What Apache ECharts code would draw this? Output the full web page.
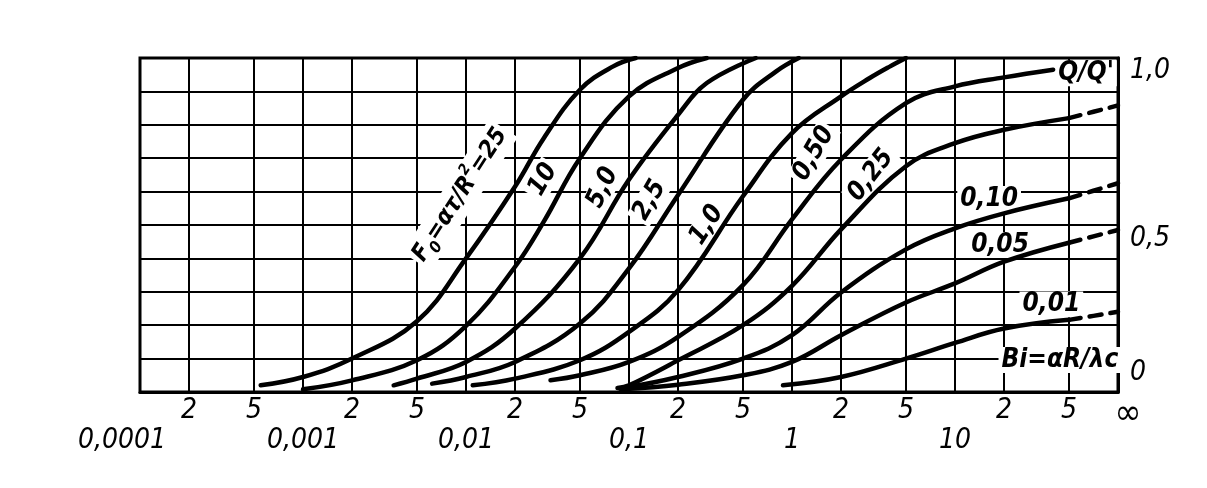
<!DOCTYPE html>
<html><head><meta charset="utf-8">
<script src="https://cdn.jsdelivr.net/npm/echarts@6/dist/echarts.min.js"></script>
<style>html,body{margin:0;padding:0;background:#fff}#c{width:1207px;height:488px}</style>
</head><body><div id="c"></div>
<script>
// Bi (x, log) grid ticks and labels
const biTicks = [0.0001,0.0002,0.0005,0.001,0.002,0.005,0.01,0.02,0.05,0.1,0.2,0.5,1,2,5,10,20,50,100];
const biTickLabels = ['0,0001','2','5','0,001','2','5','0,01','2','5','0,1','2','5','1','2','5','10','2','5','∞'];

// curves Q/Q' vs Bi, per Fo
const fo25   = [[0.00055,0.02],[0.001,0.045],[0.002,0.10],[0.005,0.212],[0.01,0.40],[0.02,0.615],[0.03,0.76],[0.05,0.905],[0.08,0.975],[0.11,1.0]];
const fo10   = [[0.001,0.008],[0.002,0.035],[0.005,0.095],[0.01,0.198],[0.02,0.375],[0.03,0.51],[0.05,0.70],[0.1,0.885],[0.2,0.97],[0.3,1.0]];
const fo5    = [[0.0036,0.02],[0.005,0.04],[0.01,0.09],[0.02,0.19],[0.05,0.40],[0.1,0.636],[0.2,0.83],[0.3,0.925],[0.6,1.0]];
const fo2_5  = [[0.0062,0.025],[0.01,0.045],[0.02,0.09],[0.05,0.205],[0.1,0.37],[0.2,0.59],[0.5,0.875],[0.8,0.96],[1.1,1.0]];
const fo1    = [[0.011,0.02],[0.02,0.04],[0.05,0.095],[0.1,0.18],[0.2,0.305],[0.5,0.586],[1,0.775],[2,0.885],[3,0.94],[4,0.975],[5,1.0]];
const fo0_5  = [[0.033,0.035],[0.05,0.05],[0.1,0.09],[0.2,0.165],[0.5,0.32],[1,0.517],[2,0.696],[5,0.865],[10,0.915],[20,0.942],[40,0.965]];
const fo0_25 = [[0.085,0.012],[0.1,0.02],[0.2,0.095],[0.5,0.2],[1,0.318],[2,0.487],[5,0.676],[10,0.745],[20,0.785],[50,0.82]];
const fo0_1  = [[0.088,0.01],[0.2,0.045],[0.5,0.10],[1,0.17],[2,0.298],[5,0.427],[10,0.49],[20,0.535],[50,0.58]];
const fo0_05 = [[0.09,0.008],[0.2,0.022],[0.5,0.05],[1,0.09],[2,0.17],[5,0.268],[10,0.325],[20,0.39],[50,0.447]];
const fo0_01 = [[0.88,0.02],[2,0.045],[5,0.10],[10,0.147],[20,0.19],[50,0.216]];
// dashed extrapolations to Bi = ∞
const fo0_25Dash = [[50,0.82],[100,0.858]];
const fo0_1Dash  = [[50,0.58],[100,0.625]];
const fo0_05Dash = [[50,0.447],[100,0.485]];
const fo0_01Dash = [[50,0.216],[100,0.24]];

// curve labels: [Bi, Q, text, rotate]
const curveLabels = [
  [0.0092,0.59,'{t|F}{s|0}{t|=ατ/R}{p|2}{t|=25}',57],
  [0.0297,0.636,'10',60],
  [0.069,0.612,'5,0',65],
  [0.134,0.574,'2,5',60],
  [0.30,0.50,'1,0',57],
  [1.36,0.714,'0,50',60],
  [3.05,0.649,'0,25',52],
  [16.2,0.578,'0,10',0],
  [18.9,0.44,'0,05',0],
  [39,0.262,'0,01',0],
  [63.7,0.954,"Q/Q'",0],
  [44,0.096,'Bi=αR/λc',0]
];

const FONT = "'Liberation Sans Narrow','DejaVu Sans Condensed','Roboto Condensed',sans-serif";
const chart = echarts.init(document.getElementById('c'), null, {renderer:'canvas'});

function lineSeries(data, dashed){
  return {type:'line', data, smooth:0.4, symbol:'none', silent:true,
    lineStyle:{color:'#000', width:4.5, type: dashed ? [12,9] : 'solid', cap:'round'}, z:3};
}
function idxOf(v){
  const lv = Math.log10(v);
  for (let i=0;i<biTicks.length;i++) if (Math.abs(Math.log10(biTicks[i])-lv)<1e-6) return i;
  return -1;
}

const textBase = {fontFamily:FONT, fontStyle:'italic', color:'#000', fontSize:28};
const boldBase = {fontFamily:FONT, fontStyle:'italic', fontWeight:'bold', color:'#000', textBorderWidth:0, opacity:1};

chart.setOption({
  animation:false,
  backgroundColor:'#fff',
  grid:{left:140, right:89, top:58, bottom:96, show:true, borderColor:'#000', borderWidth:3, backgroundColor:'transparent'},
  xAxis:{type:'log', logBase:10, min:0.0001, max:100,
    axisLine:{show:true, lineStyle:{color:'#000', width:3}},
    axisTick:{show:false, customValues:biTicks},
    splitLine:{show:true, lineStyle:{color:'#000', width:2}},
    axisLabel:{customValues:biTicks, margin:5, showMinLabel:true, showMaxLabel:true,
      formatter:function(v){
        const i = idxOf(v); if (i<0) return '';
        const s = biTickLabels[i];
        if (i===0) return '{d0|'+s+'}';
        if (s==='∞') return '{inf|'+s+'}';
        if (['2','5'].includes(s)) return '{n|'+s+'}';
        return '{d|'+s+'}';
      },
      rich:{
        n:Object.assign({}, textBase, {padding:[0,0,0,0]}),
        d:Object.assign({}, textBase, {padding:[30,0,0,0]}),
        d0:Object.assign({}, textBase, {padding:[30,36,0,0]}),
        inf:Object.assign({}, textBase, {fontSize:36, fontStyle:'normal', padding:[0,0,0,20]})
      }
    }
  },
  yAxis:{type:'value', position:'right', min:0, max:1, interval:0.1,
    axisLine:{show:true, lineStyle:{color:'#000', width:3}},
    axisTick:{show:false},
    splitLine:{show:true, lineStyle:{color:'#000', width:2}},
    axisLabel:{margin:12,
      formatter:function(v){
        const k = Math.round(v*10);
        if (k===10) return '{a|1,0}';
        if (k===5) return '{b|0,5}';
        if (k===0) return '{c|0}';
        return '';
      },
      rich:{
        a:Object.assign({}, textBase, {padding:[26,0,0,0]}),
        b:Object.assign({}, textBase, {padding:[28,0,0,0]}),
        c:Object.assign({}, textBase, {padding:[0,0,38,0]})
      }
    }
  },
  series:[
    lineSeries(fo25), lineSeries(fo10), lineSeries(fo5), lineSeries(fo2_5), lineSeries(fo1),
    lineSeries(fo0_5), lineSeries(fo0_25), lineSeries(fo0_1), lineSeries(fo0_05), lineSeries(fo0_01),
    lineSeries(fo0_25Dash,true), lineSeries(fo0_1Dash,true), lineSeries(fo0_05Dash,true), lineSeries(fo0_01Dash,true),
    {type:'scatter', silent:true, symbolSize:2, itemStyle:{color:'rgba(0,0,0,0)', opacity:1}, z:2,
      data: curveLabels.map(function(l){
        return {value:[l[0],l[1]], itemStyle:{opacity:1},
          label:Object.assign({}, boldBase, {show:true, position:'inside', rotate:l[3], formatter:l[2],
          backgroundColor:'#fff', padding:[0,3], fontSize:26,
          rich:{t:Object.assign({}, boldBase, {fontSize:24}),
                s:Object.assign({}, boldBase, {fontSize:16, verticalAlign:'bottom', lineHeight:34}),
                p:Object.assign({}, boldBase, {fontSize:15, verticalAlign:'top', lineHeight:34})}
        })};
      })
    }
  ]
});
</script></body></html>
